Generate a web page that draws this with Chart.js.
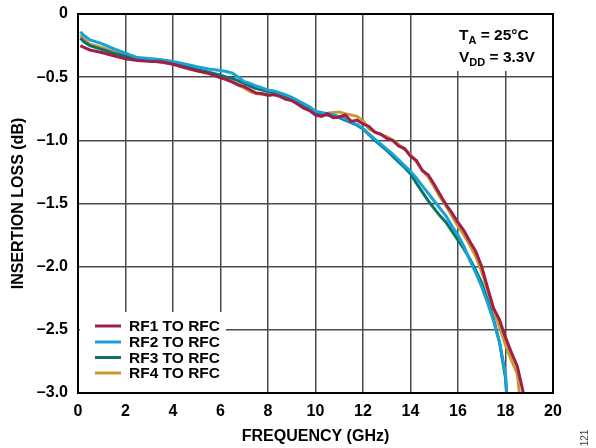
<!DOCTYPE html>
<html>
<head>
<meta charset="utf-8">
<script src="https://cdn.jsdelivr.net/npm/chart.js@4.4.1/dist/chart.umd.min.js"></script>
<style>
  html, body { margin: 0; padding: 0; background: #fff; }
  #wrap { width: 596px; height: 448px; }
</style>
</head>
<body>
<div id="wrap"><canvas id="lossChart" width="596" height="448"></canvas></div>
<script>
// Dados (GHz / dB)
const freqGHz = [0.1, 0.25, 0.5, 1, 1.5, 2, 2.5, 3, 3.5, 4, 4.5, 5, 5.5, 6,
  6.25, 6.5, 6.75, 7, 7.25, 7.5, 7.75, 8, 8.25, 8.5, 8.75, 9, 9.25, 9.5, 9.75, 10,
  10.25, 10.5, 10.75, 11, 11.25, 11.5, 11.75, 12, 12.25, 12.5, 12.75, 13, 13.25, 13.5, 13.75, 14,
  14.25, 14.5, 14.75, 15, 15.25, 15.5, 15.75, 16, 16.25, 16.5, 16.75, 17, 17.25, 17.5, 17.75, 18,
  18.25, 18.5, 18.75, 19];

const rf1ToRfc = [-0.25, -0.265, -0.285, -0.305, -0.33, -0.355, -0.368, -0.375, -0.378, -0.398, -0.425, -0.45, -0.47, -0.505,
  -0.52, -0.54, -0.56, -0.575, -0.60, -0.625, -0.63, -0.645, -0.638, -0.652, -0.675, -0.685, -0.715, -0.745, -0.765, -0.80,
  -0.81, -0.79, -0.82, -0.815, -0.80, -0.85, -0.84, -0.87, -0.89, -0.935, -0.95, -0.985, -1.0, -1.045, -1.065, -1.125,
  -1.16, -1.24, -1.275, -1.35, -1.43, -1.51, -1.575, -1.65, -1.715, -1.80, -1.88, -2.0, -2.17, -2.33, -2.42, -2.56,
  -2.68, -2.79, -3.0, -3.4];
const rf2ToRfc = [-0.14, -0.17, -0.205, -0.235, -0.275, -0.31, -0.345, -0.352, -0.362, -0.375, -0.395, -0.418, -0.435, -0.448,
  -0.455, -0.468, -0.50, -0.535, -0.55, -0.57, -0.585, -0.603, -0.61, -0.625, -0.64, -0.66, -0.685, -0.71, -0.735, -0.77,
  -0.78, -0.79, -0.80, -0.812, -0.83, -0.855, -0.875, -0.905, -0.95, -0.99, -1.03, -1.07, -1.11, -1.155, -1.20, -1.245,
  -1.30, -1.36, -1.42, -1.48, -1.54, -1.60, -1.68, -1.75, -1.84, -1.95, -2.05, -2.16, -2.29, -2.43, -2.60, -2.85,
  -3.6, -4.2, -4.5, -5.0];
const rf3ToRfc = [-0.19, -0.22, -0.25, -0.28, -0.31, -0.335, -0.36, -0.37, -0.378, -0.39, -0.41, -0.44, -0.46, -0.485,
  -0.50, -0.51, -0.53, -0.55, -0.57, -0.59, -0.60, -0.615, -0.62, -0.63, -0.65, -0.665, -0.69, -0.72, -0.75, -0.78,
  -0.795, -0.80, -0.815, -0.82, -0.84, -0.86, -0.88, -0.91, -0.955, -1.0, -1.04, -1.08, -1.125, -1.17, -1.215, -1.265,
  -1.34, -1.41, -1.48, -1.54, -1.60, -1.65, -1.72, -1.79, -1.86, -1.94, -2.03, -2.13, -2.27, -2.42, -2.60, -2.88,
  -3.6, -4.2, -4.5, -5.0];
const rf4ToRfc = [-0.165, -0.20, -0.24, -0.265, -0.30, -0.325, -0.355, -0.37, -0.382, -0.395, -0.42, -0.45, -0.47, -0.50,
  -0.515, -0.535, -0.565, -0.585, -0.615, -0.63, -0.635, -0.64, -0.64, -0.65, -0.665, -0.675, -0.70, -0.735, -0.755, -0.785,
  -0.795, -0.785, -0.78, -0.775, -0.79, -0.80, -0.81, -0.845, -0.91, -0.935, -0.955, -0.97, -1.0, -1.035, -1.07, -1.11,
  -1.17, -1.235, -1.29, -1.37, -1.45, -1.52, -1.60, -1.68, -1.75, -1.83, -1.92, -2.04, -2.19, -2.35, -2.48, -2.62,
  -2.74, -2.85, -3.3, -3.6];

const seriesNames = ['RF1 TO RFC', 'RF2 TO RFC', 'RF3 TO RFC', 'RF4 TO RFC'];
const seriesColors = ['#A11E48', '#17A2D8', '#0B7265', '#C99A34'];
const yTickValues = [0, -0.5, -1, -1.5, -2, -2.5, -3];
const yTickLabels = ['0', '–0.5', '–1.0', '–1.5', '–2.0', '–2.5', '–3.0'];

const FONT = '"Liberation Sans", Arial, sans-serif';
const allSeries = [rf1ToRfc, rf2ToRfc, rf3ToRfc, rf4ToRfc];

// Caixa da legenda, anotação e moldura
const overlay = {
  id: 'overlay',
  beforeDatasetsDraw(chart) {
    const { ctx, chartArea: a } = chart;
    ctx.save();
    ctx.fillStyle = '#fff';
    ctx.fillRect(a.left + 2, 312, 226 - a.left - 2, a.bottom - 312 - 1); // legenda
    ctx.fillRect(456, a.top + 1, a.right - 456 - 1, 70 - a.top);      // T_A / V_DD
    ctx.restore();
  },
  afterDraw(chart) {
    const { ctx, chartArea: a } = chart;
    ctx.save();
    ctx.strokeStyle = '#000';
    ctx.lineWidth = 2;
    ctx.strokeRect(a.left, a.top, a.right - a.left, a.bottom - a.top);

    // legenda
    const rows = [326, 342, 357.5, 373];
    ctx.textBaseline = 'middle';
    ctx.textAlign = 'left';
    ctx.font = 'bold 15.5px ' + FONT;
    seriesNames.forEach((name, i) => {
      ctx.strokeStyle = seriesColors[i];
      ctx.lineWidth = 3;
      ctx.beginPath();
      ctx.moveTo(95, rows[i]);
      ctx.lineTo(121, rows[i]);
      ctx.stroke();
      ctx.fillStyle = '#000';
      ctx.fillText(name, 129, rows[i] + 1);
    });

    // anotação com subscrito
    ctx.textBaseline = 'alphabetic';
    const sub = (x, y, main, s, rest) => {
      ctx.font = 'bold 15.5px ' + FONT;
      ctx.fillText(main, x, y);
      x += ctx.measureText(main).width;
      ctx.font = 'bold 11px ' + FONT;
      ctx.fillText(s, x, y + 4);
      x += ctx.measureText(s).width;
      ctx.font = 'bold 15.5px ' + FONT;
      ctx.fillText(rest, x, y);
    };
    sub(459, 40, 'T', 'A', ' = 25°C');
    sub(459, 62, 'V', 'DD', ' = 3.3V');

    // número da figura
    ctx.translate(588, 438);
    ctx.rotate(-Math.PI / 2);
    ctx.font = '10px ' + FONT;
    ctx.fillStyle = '#444';
    ctx.textAlign = 'center';
    ctx.fillText('121', 0, 0);
    ctx.restore();
  }
};

const ctx = document.getElementById('lossChart').getContext('2d');

new Chart(ctx, {
  type: 'line',
  data: {
    datasets: allSeries.map((vals, i) => ({
      label: seriesNames[i],
      data: freqGHz.map((f, k) => ({ x: f, y: vals[k] })),
      borderColor: seriesColors[i],
      borderWidth: 3,
      pointRadius: 0,
      fill: false,
      tension: 0
    }))
  },
  options: {
    responsive: false,
    animation: false,
    devicePixelRatio: 1,
    layout: { padding: { left: 0, top: 14, right: 43, bottom: 0 } },
    plugins: { legend: { display: false }, tooltip: { enabled: false } },
    scales: {
      x: {
        type: 'linear',
        min: 0, max: 20,
        afterFit: s => { s.height = 55; s.paddingLeft = 0; s.paddingRight = 0; },
        grid: { color: '#4a4a4a', lineWidth: 1.5, drawTicks: false },
        border: { display: false },
        ticks: {
          stepSize: 2, padding: 9, color: '#000',
          font: { family: FONT, size: 16, weight: 'bold' }
        },
        title: {
          display: true, text: 'FREQUENCY (GHz)', color: '#000',
          font: { family: FONT, size: 16, weight: 'bold' },
          padding: { top: 0, bottom: 2 }
        }
      },
      y: {
        min: -3, max: 0,
        afterFit: s => { s.width = 78; s.paddingTop = 0; s.paddingBottom = 0; },
        grid: { color: '#4a4a4a', lineWidth: 1.5, drawTicks: false },
        border: { display: false },
        ticks: {
          stepSize: 0.5, padding: 10, color: '#000',
          font: { family: FONT, size: 16, weight: 'bold' },
          callback: v => {
            const i = yTickValues.findIndex(t => Math.abs(t - v) < 1e-6);
            return i >= 0 ? yTickLabels[i] : '';
          }
        },
        title: {
          display: true, text: 'INSERTION LOSS (dB)', color: '#000',
          font: { family: FONT, size: 16, weight: 'bold' },
          padding: { top: 9, bottom: 0 }
        }
      }
    }
  },
  plugins: [overlay]
});
</script>
</body>
</html>
